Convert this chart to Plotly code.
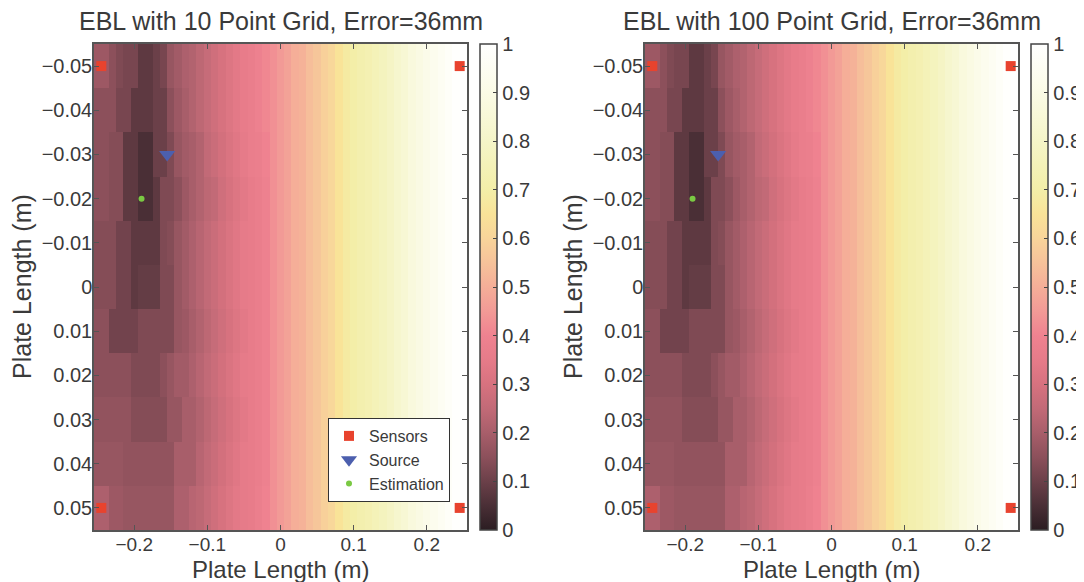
import plotly.graph_objects as go

# The page body has an 8px margin, so the figure is sized/positioned to compensate.
OFF = 8
W, H = 1084 - OFF, 582 - OFF

# ---------------- data ----------------
x_centers = [round(-0.25 + 0.01 * i, 2) for i in range(51)]
y_centers = [-0.05, -0.04, -0.03, -0.02, -0.01, 0.0, 0.01, 0.02, 0.03, 0.04, 0.05]

right_part = [0.43, 0.45, 0.47, 0.50, 0.51, 0.54, 0.56, 0.59, 0.61, 0.65, 0.68, 0.70, 0.72, 0.73,
              0.75, 0.77, 0.79, 0.82, 0.84, 0.87, 0.89, 0.91, 0.93, 0.95, 0.97, 0.99, 1.00]

row_m05 = [0.18, 0.18, 0.15, 0.13, 0.12, 0.12, 0.08, 0.08, 0.10, 0.12, 0.17, 0.19, 0.21, 0.22, 0.24, 0.26, 0.28, 0.30, 0.32, 0.34, 0.36, 0.37, 0.39, 0.41]
row_m04 = [0.15, 0.15, 0.15, 0.12, 0.12, 0.08, 0.08, 0.08, 0.10, 0.10, 0.15, 0.18, 0.20, 0.22, 0.24, 0.26, 0.28, 0.30, 0.32, 0.34, 0.36, 0.37, 0.39, 0.41]
row_m03 = [0.15, 0.15, 0.14, 0.14, 0.08, 0.08, 0.05, 0.05, 0.10, 0.10, 0.13, 0.17, 0.19, 0.20, 0.22, 0.25, 0.27, 0.29, 0.31, 0.33, 0.35, 0.37, 0.38, 0.40]
row_m02 = [0.15, 0.15, 0.14, 0.14, 0.08, 0.08, 0.05, 0.05, 0.08, 0.13, 0.13, 0.15, 0.18, 0.20, 0.22, 0.24, 0.25, 0.28, 0.30, 0.32, 0.34, 0.36, 0.37, 0.39]
row_m01 = [0.14, 0.14, 0.14, 0.11, 0.11, 0.08, 0.08, 0.08, 0.08, 0.13, 0.14, 0.17, 0.19, 0.21, 0.23, 0.25, 0.27, 0.29, 0.31, 0.33, 0.35, 0.36, 0.37, 0.39]
row_000 = [0.14, 0.14, 0.14, 0.11, 0.11, 0.08, 0.09, 0.09, 0.09, 0.13, 0.13, 0.17, 0.19, 0.21, 0.23, 0.25, 0.27, 0.29, 0.31, 0.33, 0.35, 0.36, 0.37, 0.39]
row_p01 = [0.15, 0.15, 0.11, 0.11, 0.11, 0.11, 0.13, 0.13, 0.13, 0.13, 0.13, 0.17, 0.18, 0.20, 0.22, 0.24, 0.26, 0.28, 0.30, 0.32, 0.34, 0.36, 0.37, 0.39]
row_p02 = [0.15, 0.15, 0.15, 0.15, 0.15, 0.13, 0.13, 0.13, 0.13, 0.15, 0.17, 0.19, 0.19, 0.21, 0.23, 0.25, 0.27, 0.29, 0.31, 0.33, 0.35, 0.36, 0.37, 0.39]
row_p03 = [0.16, 0.16, 0.16, 0.16, 0.16, 0.14, 0.14, 0.14, 0.14, 0.14, 0.17, 0.17, 0.20, 0.20, 0.22, 0.24, 0.26, 0.28, 0.30, 0.32, 0.34, 0.36, 0.37, 0.39]
row_p04 = [0.17, 0.17, 0.17, 0.17, 0.16, 0.16, 0.16, 0.16, 0.16, 0.16, 0.16, 0.20, 0.20, 0.20, 0.23, 0.25, 0.27, 0.29, 0.31, 0.33, 0.35, 0.36, 0.37, 0.39]
row_p05 = [0.21, 0.21, 0.18, 0.18, 0.17, 0.17, 0.17, 0.17, 0.17, 0.17, 0.17, 0.21, 0.21, 0.23, 0.24, 0.26, 0.28, 0.30, 0.32, 0.34, 0.35, 0.36, 0.38, 0.40]

left_rows = [row_m05, row_m04, row_m03, row_m02, row_m01, row_000,
             row_p01, row_p02, row_p03, row_p04, row_p05]
z_values = [r + right_part for r in left_rows]

sensors_x = [-0.245, 0.245, -0.245, 0.245]
sensors_y = [-0.05, -0.05, 0.05, 0.05]
source_x = [-0.155]
source_y = [-0.03]
estimate_x = [-0.19]
estimate_y = [-0.02]

titles = ["EBL with 10 Point Grid, Error=36mm", "EBL with 100 Point Grid, Error=36mm"]
x_ticks = [-0.2, -0.1, 0.0, 0.1, 0.2]
x_ticktext = ["\u22120.2", "\u22120.1", "0", "0.1", "0.2"]
y_ticks = [-0.05, -0.04, -0.03, -0.02, -0.01, 0.0, 0.01, 0.02, 0.03, 0.04, 0.05]
y_ticktext = ["\u22120.05", "\u22120.04", "\u22120.03", "\u22120.02", "\u22120.01", "0",
              "0.01", "0.02", "0.03", "0.04", "0.05"]
cb_ticks = [0, 0.1, 0.2, 0.3, 0.4, 0.5, 0.6, 0.7, 0.8, 0.9, 1]
cb_ticktext = ["0", "0.1", "0.2", "0.3", "0.4", "0.5", "0.6", "0.7", "0.8", "0.9", "1"]

# ---------------- style ----------------
colorscale = [
    [0.00, "#2b1d22"], [0.05, "#4a2f36"], [0.10, "#6b4049"], [0.15, "#8c505b"],
    [0.20, "#a85e6a"], [0.25, "#c26a77"], [0.30, "#d7727f"], [0.35, "#e67b89"],
    [0.40, "#ef8290"], [0.45, "#f29a96"], [0.50, "#f5ae98"], [0.55, "#f6c29a"],
    [0.60, "#f8d49a"], [0.65, "#f9e398"], [0.70, "#f3eea8"], [0.80, "#f5f5c8"],
    [0.90, "#fbfbe6"], [1.00, "#ffffff"],
]
FONT = "Liberation Sans, Arial, Helvetica, sans-serif"
TXT = "#3a3a3a"


def px(xa):
    return (xa - OFF) / W


def py(ya):
    return 1 - (ya - OFF) / H


plot_px = [(94, 467), (645, 1018)]
cb_px = [480, 1031]
top_px, bot_px = 44, 530

fig = go.Figure()
for k in range(2):
    xa = "x" if k == 0 else "x2"
    ya = "y" if k == 0 else "y2"
    fig.add_trace(go.Heatmap(
        x=x_centers, y=y_centers, z=z_values, zmin=0, zmax=1,
        colorscale=colorscale, xaxis=xa, yaxis=ya, hoverinfo="skip",
        colorbar=dict(
            x=px(cb_px[k]), xanchor="left", xpad=0, ypad=0,
            y=(py(top_px) + py(bot_px)) / 2, yanchor="middle",
            len=(bot_px - top_px) / H, lenmode="fraction",
            thickness=17, outlinewidth=1.5, outlinecolor="#444",
            tickvals=cb_ticks, ticktext=cb_ticktext, ticks="inside", ticklen=4,
            tickcolor="#444", tickfont=dict(family=FONT, size=20, color=TXT),
        ),
    ))
    show = (k == 0)
    fig.add_trace(go.Scatter(
        x=sensors_x, y=sensors_y, mode="markers", name="Sensors",
        marker=dict(symbol="square", size=10, color="#e8432e"),
        xaxis=xa, yaxis=ya, showlegend=show, hoverinfo="skip"))
    fig.add_trace(go.Scatter(
        x=source_x, y=source_y, mode="markers", name="Source",
        marker=dict(symbol="triangle-down", size=14, color="#4c5fae"),
        xaxis=xa, yaxis=ya, showlegend=show, hoverinfo="skip"))
    fig.add_trace(go.Scatter(
        x=estimate_x, y=estimate_y, mode="markers", name="Estimation",
        marker=dict(symbol="circle", size=6, color="#7ac943"),
        xaxis=xa, yaxis=ya, showlegend=show, hoverinfo="skip"))

axis_common = dict(showgrid=False, zeroline=False, showline=True, linecolor="#555",
                   linewidth=1.5, mirror="ticks", ticks="inside", ticklen=5,
                   tickcolor="#555", tickfont=dict(family=FONT, size=20, color=TXT))
layout = dict(
    width=W, height=H, margin=dict(l=0, r=0, t=0, b=0, autoexpand=False),
    paper_bgcolor="white", plot_bgcolor="white",
    font=dict(family=FONT, color=TXT),
    legend=dict(x=px(328), y=py(418), xanchor="left", yanchor="top",
                bgcolor="white", bordercolor="#333", borderwidth=1,
                font=dict(family=FONT, size=16, color=TXT),
                itemwidth=30, tracegroupgap=0),
)
for k in range(2):
    sx = "" if k == 0 else "2"
    layout["xaxis" + sx] = dict(axis_common, domain=[px(plot_px[k][0]), px(plot_px[k][1])],
                                range=[-0.255, 0.255], tickvals=x_ticks, ticktext=x_ticktext,
                                anchor="y" + sx, ticklabelstandoff=-4,
                                tickfont=dict(family=FONT, size=19, color=TXT))
    layout["yaxis" + sx] = dict(axis_common, domain=[py(bot_px), py(top_px)],
                                range=[0.055, -0.055], tickvals=y_ticks, ticktext=y_ticktext,
                                anchor="x" + sx, ticklabelstandoff=-4)
fig.update_layout(**layout)

annotations = []
for k in range(2):
    cxp = (plot_px[k][0] + plot_px[k][1]) / 2
    annotations.append(dict(text=titles[k], x=px(cxp), y=py(21), xref="paper", yref="paper",
                            showarrow=False, xanchor="center", yanchor="middle",
                            font=dict(family=FONT, size=25, color=TXT)))
    annotations.append(dict(text="Plate Length (m)", x=px(cxp), y=py(569), xref="paper",
                            yref="paper", showarrow=False, xanchor="center", yanchor="middle",
                            font=dict(family=FONT, size=24, color=TXT)))
    annotations.append(dict(text="Plate Length (m)", x=px(plot_px[k][0] - 72),
                            y=py((top_px + bot_px) / 2), xref="paper", yref="paper",
                            showarrow=False, xanchor="center", yanchor="middle", textangle=-90,
                            font=dict(family=FONT, size=25, color=TXT)))
fig.update_layout(annotations=annotations)

fig.write_html("out.html")
